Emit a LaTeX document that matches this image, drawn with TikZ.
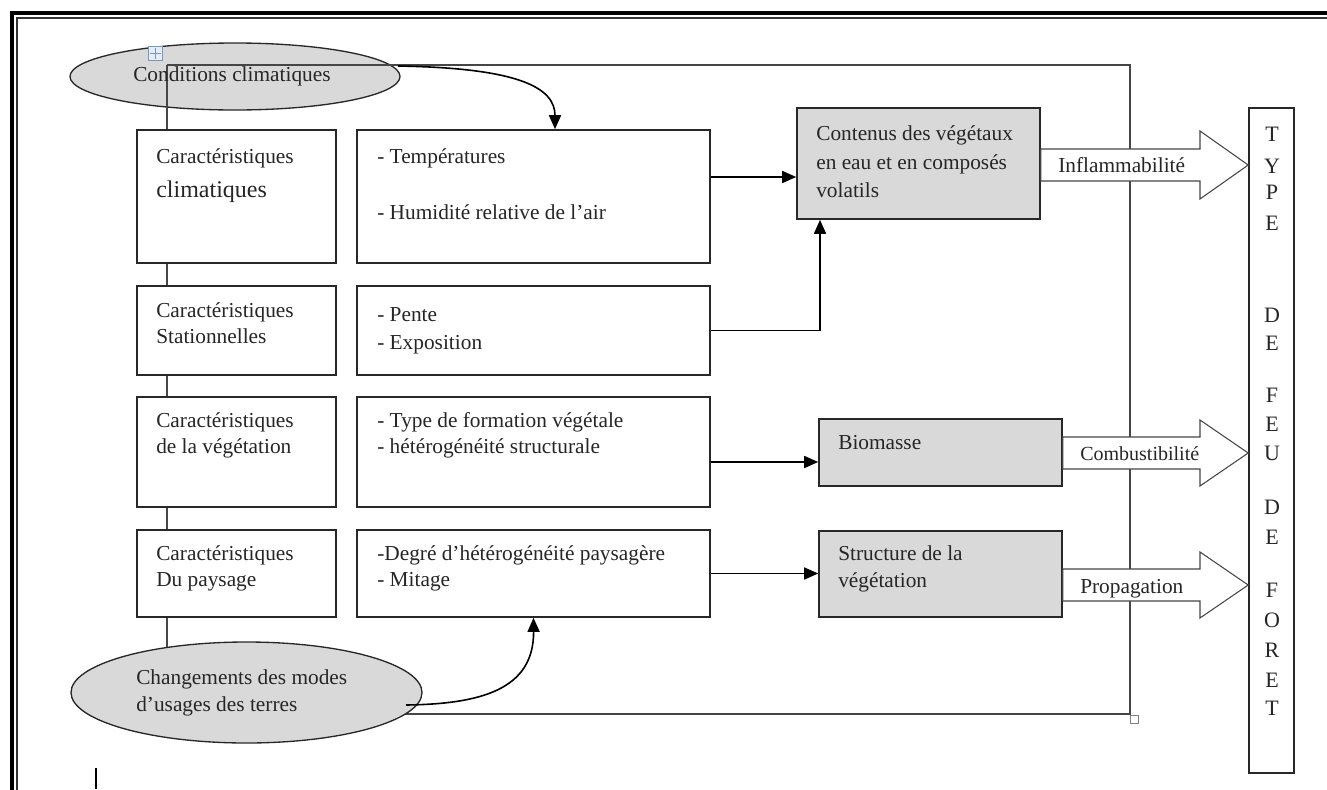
\documentclass[tikz,border=0pt]{standalone}
\usepackage{fontspec}
\setmainfont{Liberation Serif}
\usetikzlibrary{shapes.geometric,arrows.meta,fit,calc}
\definecolor{boxgray}{RGB}{217,217,217}
\definecolor{linec}{RGB}{40,40,40}
\definecolor{thinc}{RGB}{70,70,70}
\definecolor{ancdraw}{RGB}{120,150,190}
\definecolor{ancfill}{RGB}{228,236,246}
\begin{document}
\begin{tikzpicture}[x=0.75pt,y=-0.75pt]
\tikzset{
 box/.style={draw=linec, line width=1.2pt, fill=white, inner sep=0pt},
 gbox/.style={box, fill=boxgray},
 oval/.style={ellipse, draw=linec, line width=1pt, fill=boxgray, inner sep=0pt},
 txt/.style={anchor=base west, inner sep=0pt, font=\fontsize{16}{19}\selectfont, text=black!85},
 bigtxt/.style={txt, font=\fontsize{18}{21}\selectfont},
 thinline/.style={draw=thinc, line width=0.8pt},
 arr/.style={draw=black, line width=1.2pt, -{Triangle[length=10.5pt,width=9pt]}},
 barrow/.style={draw=thinc, line width=0.8pt, fill=white},
 letter/.style={anchor=base, inner sep=0pt, font=\fontsize{16.5}{19}\selectfont, text=black!85}
}
\useasboundingbox (0,0) rectangle (1327,789);
\clip (0,0) rectangle (1327,789);
\fill[white] (0,0) rectangle (1327,789);
% outer frame
\draw[line width=3pt, black] (12,800) -- (12,13) -- (1340,13);
\draw[line width=0.9pt, black!80] (17,800) -- (17,18) -- (1340,18);

% top ellipse
\node[oval, minimum width=247.5pt, minimum height=50.25pt] (e1) at (235,76.5) {};

% thin frame lines
\coordinate (tl) at (167,65);
\coordinate (tr) at (1130,65);
\coordinate (br) at (1130,714);
\draw[thinline] (tl) -- (tr) -- (br) -- (403,714);
\draw[thinline] (tl) -- (167,660);

% anchor icon
\node[draw=ancdraw, fill=ancfill, line width=0.6pt, minimum size=11pt, inner sep=0pt] (anc) at (155.5,53.5) {};
\draw[ancdraw, line width=0.6pt] ([yshift=-2pt]anc.north) -- ([yshift=2pt]anc.south);
\draw[ancdraw, line width=0.6pt] ([xshift=2pt]anc.west) -- ([xshift=-2pt]anc.east);
\node[draw=gray, fill=white, line width=0.5pt, minimum size=6pt, inner sep=0pt] (hdl) at (1134,719) {};

% left column
\node[box, fit={(137,130)(336,263)}] (l1) {};
\node[box, fit={(137,286)(336,375)}] (l2) {};
\node[box, fit={(137,397)(336,507)}] (l3) {};
\node[box, fit={(137,530)(336,617)}] (l4) {};
% middle column
\node[box, fit={(357,130)(710,263)}] (m1) {};
\node[box, fit={(357,286)(710,375)}] (m2) {};
\node[box, fit={(357,397)(710,507)}] (m3) {};
\node[box, fit={(357,530)(710,617)}] (m4) {};
% grey boxes
\node[gbox, fit={(797,108)(1040,219)}] (c) {};
\node[gbox, fit={(819,419)(1062,486)}] (bio) {};
\node[gbox, fit={(819,531)(1062,617)}] (st) {};
% TYPE box
\node[box, fit={(1249,108)(1294,773)}] (t) {};

% connectors
\draw[arr] (m1.east |- 0,177) -- (c.west |- 0,177);
\draw[arr] (m2.east) -- (820,330.5) -- (c.south -| 820,0);
\draw[arr] (m3.east |- 0,462) -- (bio.west |- 0,462);
\draw[arr] (m4.east) -- (st.west |- m4.east);
\draw[arr] (398,66) .. controls (520,68) and (555,88) .. (m1.north -| 555,0);

% block arrows
\draw[barrow] (c.east |- 0,149) -- (1200,149) -- (1200,131) -- (t.west |- 0,165) -- (1200,199) -- (1200,181) -- (c.east |- 0,181) -- cycle;
\draw[barrow] (bio.east |- 0,437) -- (1200,437) -- (1200,420) -- (t.west |- 0,453) -- (1200,486) -- (1200,469) -- (bio.east |- 0,469) -- cycle;
\draw[barrow] (st.east |- 0,569) -- (1200,569) -- (1200,552) -- (t.west |- 0,585) -- (1200,618) -- (1200,601) -- (st.east |- 0,601) -- cycle;

% bottom ellipse
\node[oval, minimum width=263.25pt, minimum height=75.75pt] (e2) at (246.5,692.5) {};
\draw[arr] (406,705) .. controls (480,704) and (534,690) .. (m4.south);

% cursor
\draw[line width=1.2pt] (96,768) -- (96,789);

% texts
\node[txt] (te1) at (133,81) {Conditions climatiques};
\node[txt] (tl1a) at (156,163) {Caractéristiques};
\node[bigtxt] (tl1b) at (156,197) {climatiques};
\node[txt] (tl2a) at (156,317) {Caractéristiques};
\node[txt] (tl2b) at (156,343) {Stationnelles};
\node[txt] (tl3a) at (156,427) {Caractéristiques};
\node[txt] (tl3b) at (156,453) {de la végétation};
\node[txt] (tl4a) at (156,560) {Caractéristiques};
\node[txt] (tl4b) at (156,586) {Du paysage};
\node[txt] (tm1a) at (377,163) {- Températures};
\node[txt] (tm1b) at (377,219) {- Humidité relative de l’air};
\node[txt] (tm2a) at (377,321) {- Pente};
\node[txt] (tm2b) at (377,349) {- Exposition};
\node[txt] (tm3a) at (377,427) {- Type de formation végétale};
\node[txt] (tm3b) at (377,453) {- hétérogénéité structurale};
\node[txt] (tm4a) at (377,560) {-Degré d’hétérogénéité paysagère};
\node[txt] (tm4b) at (377,586) {- Mitage};
\node[txt] (tca) at (816,140) {Contenus des végétaux};
\node[txt] (tcb) at (816,169) {en eau et en composés};
\node[txt] (tcc) at (816,197) {volatils};
\node[txt] (tbio) at (838,449) {Biomasse};
\node[txt] (tsta) at (838,560) {Structure de la};
\node[txt] (tstb) at (838,587) {végétation};
\node[txt] (tinf) at (1058,172) {Inflammabilité};
\node[txt, font=\fontsize{15}{18}\selectfont] (tcom) at (1080,460) {Combustibilité};
\node[txt] (tpro) at (1080,593) {Propagation};
\node[txt] (te2a) at (136,684) {Changements des modes};
\node[txt] (te2b) at (136,711) {d’usages des terres};
% vertical title
\foreach \L/\Y [count=\i] in {T/141,Y/173,P/199,E/230,D/322,E/350,F/402,E/431,U/460,D/514,E/544,F/597,O/627,R/657,E/687,T/715}
  \node[letter] (let\i) at (1272,\Y) {\L};
\end{tikzpicture}
\end{document}
